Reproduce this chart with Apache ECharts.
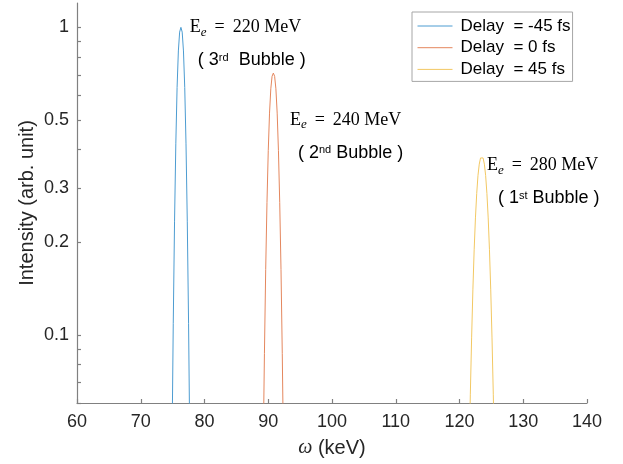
<!DOCTYPE html>
<html>
<head>
<meta charset="utf-8">
<script src="https://cdn.jsdelivr.net/npm/echarts@6/dist/echarts.min.js"></script>
<style>
html,body{margin:0;padding:0;background:#fff;}
#chart{width:623px;height:464px;}
</style>
</head>
<body>
<div id="chart"></div>
<script>
// ---- data ----
const seriesNames = ['Delay  = -45 fs', 'Delay  = 0 fs', 'Delay  = 45 fs'];

const omegaBlue = [74.7, 74.9, 75.1, 75.3, 75.5, 75.7, 75.9, 76.1, 76.3, 76.5, 76.7, 76.9, 77.1, 77.3, 77.5, 77.7, 77.9];
const intensityBlue = [0.0136, 0.0425, 0.109, 0.233, 0.418, 0.637, 0.838, 0.965, 1.000, 0.965, 0.838, 0.637, 0.418, 0.233, 0.109, 0.0425, 0.0136];

const omegaOrange = [89.0, 89.2, 89.4, 89.6, 89.8, 90.0, 90.2, 90.4, 90.6, 90.8, 91.0, 91.2, 91.4, 91.6, 91.8, 92.0, 92.2, 92.4, 92.6];
const intensityOrange = [0.0168, 0.0407, 0.0868, 0.163, 0.269, 0.397, 0.526, 0.631, 0.693, 0.710, 0.693, 0.631, 0.526, 0.397, 0.269, 0.163, 0.0868, 0.0407, 0.0168];

const omegaYellow = [121.3, 121.5, 121.7, 121.9, 122.1, 122.3, 122.5, 122.7, 122.9, 123.1, 123.3, 123.5, 123.7, 123.9, 124.1, 124.3, 124.5, 124.7, 124.9, 125.1, 125.3, 125.5, 125.7];
const intensityYellow = [0.0226, 0.0393, 0.0641, 0.0977, 0.140, 0.189, 0.240, 0.288, 0.330, 0.359, 0.376, 0.380, 0.376, 0.359, 0.330, 0.288, 0.240, 0.189, 0.140, 0.0977, 0.0641, 0.0393, 0.0226];

// annotations (anchor = left/middle of the "E_e = ..." line, in data units)
const annoOmega = [77.7, 93.4, 124.3];
const annoIntensity = [1.0, 0.5, 0.356];
const annoEnergy = ['220', '240', '280'];
const annoOrdinalNum = ['3', '2', '1'];
const annoOrdinalSuffix = ['rd', 'nd', 'st'];

// axes
const xMin = 60, xMax = 140, xStep = 10;
const yMin = 0.06, yMax = 1.2;
const yTickValues = [0.06, 0.07, 0.08, 0.09, 0.1, 0.2, 0.3, 0.4, 0.5, 0.6, 0.7, 0.8, 0.9, 1];
const yLabelValues = [0.1, 0.2, 0.3, 0.5, 1];
const yLabelTexts = ['0.1', '0.2', '0.3', '0.5', '1'];

// ---- chart ----
const colors = ['#4d9cd1', '#e4875e', '#f2c863'];
const omegas = [omegaBlue, omegaOrange, omegaYellow];
const intens = [intensityBlue, intensityOrange, intensityYellow];
const indent = [8, 8, 11];
const lg = Math.log10;

const axisColor = '#808080';
const textColor = '#262626';

function annoLabel(i) {
  const spacer = i === 0 ? '  ' : ' ';
  return '{e|E}{sub|e}{eq|=}{e|' + annoEnergy[i] + ' MeV}\n' +
         '{n0|( ' + annoOrdinalNum[i] + '}{sup|' + annoOrdinalSuffix[i] + '}{n|' + spacer + 'Bubble )}';
}

const series = seriesNames.map((name, k) => ({
  name: name,
  type: 'line',
  data: omegas[k].map((x, i) => [x, lg(intens[k][i])]),
  symbol: 'none',
  showSymbol: false,
  clip: true,
  animation: false,
  color: colors[k],
  lineStyle: { width: 1, color: colors[k] },
  markPoint: {
    silent: true,
    animation: false,
    symbol: 'circle',
    symbolSize: 0,
    data: [{
      coord: [annoOmega[k], lg(annoIntensity[k])],
      label: {
        show: true,
        position: [0, 0],
        offset: [0, -16.5],
        align: 'left',
        verticalAlign: 'top',
        formatter: annoLabel(k),
        rich: {
          e: { fontFamily: 'Liberation Serif', fontSize: 18, lineHeight: 33, color: '#000' },
          eq: { fontFamily: 'Liberation Serif', fontSize: 18, lineHeight: 33, color: '#000', padding: [0, 8, 0, 8] },
          sub: { fontFamily: 'Liberation Serif', fontStyle: 'italic', fontSize: 13, lineHeight: 33, color: '#000', padding: [10, 0, 0, 0] },
          n0: { fontFamily: 'Liberation Sans', fontSize: 18, lineHeight: 33, color: '#000', padding: [0, 0, 0, indent[k]] },
          n: { fontFamily: 'Liberation Sans', fontSize: 18, lineHeight: 33, color: '#000' },
          sup: { fontFamily: 'Liberation Sans', fontSize: 11, lineHeight: 33, color: '#000', padding: [0, 0, 5, 0] }
        }
      }
    }]
  }
}));

const chart = echarts.init(document.getElementById('chart'), null, { renderer: 'canvas' });
chart.setOption({
  animation: false,
  backgroundColor: '#fff',
  grid: { left: 77, right: 36, top: 3, bottom: 61, containLabel: false },
  legend: {
    show: true,
    data: seriesNames,
    orient: 'vertical',
    left: 412,
    top: 12,
    itemWidth: 35,
    itemHeight: 14,
    itemGap: 3.7,
    padding: [5, 2, 3, 5],
    borderColor: '#a6a6a6',
    borderWidth: 1,
    backgroundColor: '#fff',
    itemStyle: { opacity: 0 },
    lineStyle: { width: 1 },
    textStyle: { fontFamily: 'Liberation Sans', fontSize: 17, color: '#000', lineHeight: 18, padding: [0, 0, 0, 3] }
  },
  xAxis: {
    type: 'value',
    min: xMin,
    max: xMax,
    interval: xStep,
    name: '{i|ω} (keV)',
    nameLocation: 'middle',
    nameGap: 35,
    nameMoveOverlap: false,
    nameTextStyle: {
      fontFamily: 'Liberation Sans', fontSize: 20, color: textColor,
      rich: { i: { fontFamily: 'Liberation Serif', fontStyle: 'italic', fontSize: 20, color: textColor } }
    },
    axisLine: { show: true, onZero: false, lineStyle: { color: axisColor, width: 1.2 } },
    axisTick: { show: true, inside: true, length: 4, lineStyle: { color: axisColor, width: 1.2 } },
    axisLabel: { fontFamily: 'Liberation Sans', fontSize: 18, color: textColor, margin: 10 },
    splitLine: { show: false }
  },
  yAxis: {
    type: 'value',
    min: lg(yMin),
    max: lg(yMax),
    name: 'Intensity (arb. unit)',
    nameLocation: 'middle',
    nameRotate: 90,
    nameGap: 40,
    nameMoveOverlap: false,
    nameTextStyle: { fontFamily: 'Liberation Sans', fontSize: 20, color: textColor },
    axisLine: { show: true, onZero: false, lineStyle: { color: axisColor, width: 1.2 } },
    axisTick: { show: true, inside: true, length: 4, customValues: yTickValues.map(lg), lineStyle: { color: axisColor, width: 1.2 } },
    axisLabel: {
      fontFamily: 'Liberation Sans', fontSize: 18, color: textColor, margin: 8,
      customValues: yLabelValues.map(lg),
      formatter: function (v) {
        const i = yLabelValues.findIndex(t => Math.abs(lg(t) - v) < 1e-6);
        return i >= 0 ? yLabelTexts[i] : '';
      }
    },
    splitLine: { show: false }
  },
  series: series
});
</script>
</body>
</html>
